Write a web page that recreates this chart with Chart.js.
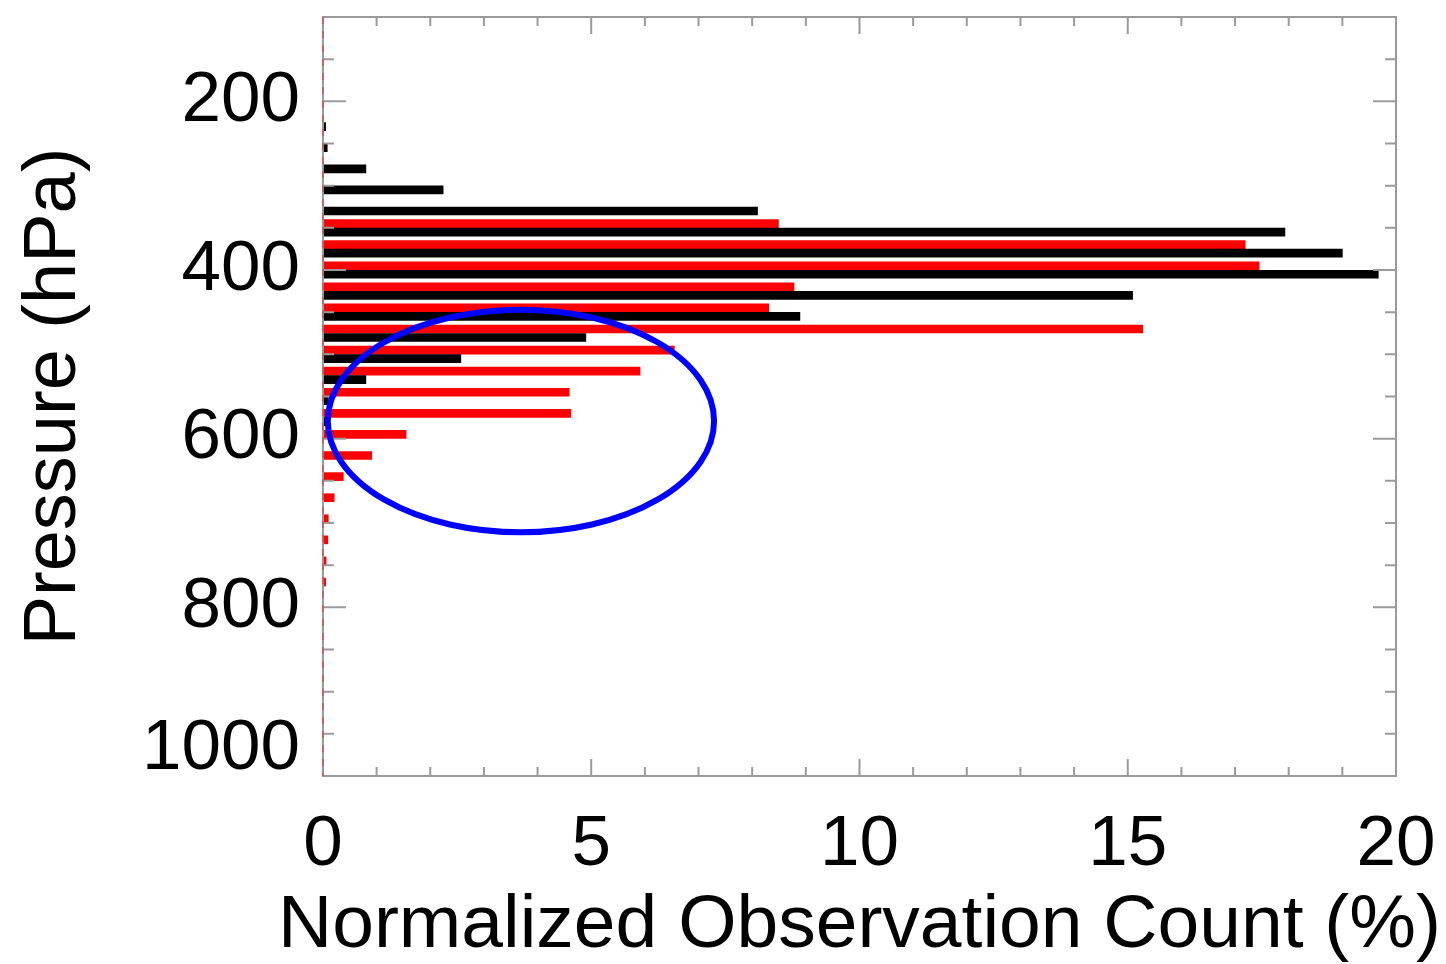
<!DOCTYPE html>
<html>
<head>
<meta charset="utf-8">
<script src="https://cdn.jsdelivr.net/npm/chart.js@4"></script>
<style>
  body { margin: 0; background: #fff; }
  canvas { display: block; }
</style>
</head>
<body>
<canvas id="grafica" width="1446" height="964"></canvas>
<script>
// pressure levels (hPa) and normalized counts (%) for each series
const presionNegro = [230, 255, 280, 305, 330, 355, 380, 405, 430, 455, 480, 505, 530, 555, 580];
const conteoNegro = [0.05, 0.08, 0.8, 2.24, 8.1, 17.93, 19.0, 19.67, 15.09, 8.89, 4.9, 2.57, 0.8, 0.1, 0.05];

const presionRojo = [345, 370, 395, 420, 445, 470, 495, 520, 545, 570, 595, 620, 645, 670, 695, 720, 745, 770];
const conteoRojo = [8.49, 17.19, 17.45, 8.78, 8.31, 15.28, 6.55, 5.91, 4.59, 4.62, 1.55, 0.91, 0.38, 0.21, 0.1, 0.09, 0.06, 0.05];

const ticksX = [0, 5, 10, 15, 20];
const ticksY = [200, 400, 600, 800, 1000];

const fuente = '"Liberation Sans", Arial, Helvetica, sans-serif';
const gris = '#9a9a9a';

// marco con marcas hacia dentro, linea roja punteada en x=0 y elipse azul
const marcoPlugin = {
  id: 'marco',
  afterLayout(chart) {
    // el titulo del eje x es mas ancho que el area; que no se comprima
    const xs = chart.scales.x;
    xs.left -= 200;
    xs.right += 200;
  },
  afterDatasetsDraw(chart, args, opts) {
    const {ctx, chartArea: a, scales} = chart;
    const xs = scales.x, ys = scales.y;
    ctx.save();
    ctx.strokeStyle = gris;
    ctx.lineWidth = 2;
    ctx.strokeRect(a.left, a.top, a.right - a.left, a.bottom - a.top);
    ctx.beginPath();
    // y: menor cada 50, mayor cada 200
    for (let v = ys.min; v <= ys.max; v += 50) {
      const py = ys.getPixelForValue(v);
      const len = v % 200 === 0 ? 23 : 11;
      ctx.moveTo(a.left, py); ctx.lineTo(a.left + len, py);
      ctx.moveTo(a.right, py); ctx.lineTo(a.right - len, py);
    }
    // x: menor cada 1, mayor cada 5
    for (let v = xs.min; v <= xs.max; v += 1) {
      const px = xs.getPixelForValue(v);
      const len = v % 5 === 0 ? 17 : 9;
      ctx.moveTo(px, a.bottom); ctx.lineTo(px, a.bottom - len);
      ctx.moveTo(px, a.top); ctx.lineTo(px, a.top + len);
    }
    ctx.stroke();

    // linea roja punteada sobre el eje x=0
    const x0 = xs.getPixelForValue(0);
    ctx.strokeStyle = 'rgba(255,0,0,0.45)';
    ctx.lineWidth = 1.5;
    ctx.setLineDash([7, 7]);
    ctx.beginPath();
    ctx.moveTo(x0, a.top);
    ctx.lineTo(x0, a.bottom);
    ctx.stroke();
    ctx.setLineDash([]);

    // elipse en coordenadas de datos
    const e = opts.elipse;
    const cx = xs.getPixelForValue(e.x), cy = ys.getPixelForValue(e.y);
    const rx = Math.abs(xs.getPixelForValue(e.x + e.rx) - cx);
    const ry = Math.abs(ys.getPixelForValue(e.y + e.ry) - cy);
    ctx.strokeStyle = '#0000ff';
    ctx.lineWidth = 6;
    ctx.beginPath();
    ctx.ellipse(cx, cy, rx, ry, 0, 0, Math.PI * 2);
    ctx.stroke();
    ctx.restore();
  }
};

new Chart(document.querySelector('#grafica'), {
  type: 'bar',
  data: {
    datasets: [
      {
        label: 'negro',
        data: presionNegro.map((p, i) => ({x: conteoNegro[i], y: p})),
        backgroundColor: '#000000',
      },
      {
        label: 'rojo',
        data: presionRojo.map((p, i) => ({x: conteoRojo[i], y: p})),
        backgroundColor: '#ff0000',
      },
    ]
  },
  options: {
    responsive: false,
    animation: false,
    indexAxis: 'y',
    datasets: {
      bar: { grouped: false, barThickness: 8, maxBarThickness: 8, borderWidth: 0 }
    },
    layout: { padding: { left: 0, top: 17, right: 50, bottom: 0 } },
    plugins: {
      legend: { display: false },
      tooltip: { enabled: false },
      marco: { elipse: { x: 3.69, y: 579, rx: 3.6, ry: 132 } }
    },
    scales: {
      x: {
        type: 'linear',
        position: 'bottom',
        offset: false,
        min: 0,
        max: 20,
        afterBuildTicks: s => { s.ticks = ticksX.map(v => ({value: v})); },
        afterFit: s => {
          s.paddingLeft = 0; s.paddingRight = 0;
          s.height -= s.options.ticks.padding;
        },
        grid: { display: false, drawTicks: false },
        border: { display: false },
        ticks: {
          padding: 34,
          color: '#000',
          maxRotation: 0,
          autoSkip: false,
          font: { family: fuente, size: 71, lineHeight: 1 }
        },
        title: {
          display: true,
          text: 'Normalized Observation Count (%)',
          color: '#000',
          padding: { top: 8, bottom: 0 },
          font: { family: fuente, size: 75, lineHeight: 1 }
        }
      },
      y: {
        type: 'linear',
        reverse: true,
        offset: false,
        min: 100,
        max: 1000,
        afterBuildTicks: s => { s.ticks = ticksY.map(v => ({value: v})); },
        afterFit: s => {
          s.paddingTop = 0; s.paddingBottom = 0;
          s.width -= s.options.ticks.padding;
        },
        grid: { display: false, drawTicks: false },
        border: { display: false },
        ticks: {
          padding: 23,
          color: '#000',
          autoSkip: false,
          callback: v => v === 1000 ? ['1000', ''] : String(v),
          font: c => ({
            family: fuente,
            size: 71,
            lineHeight: (c.tick && c.tick.value === 1000) ? 0.76 : 1
          })
        },
        title: {
          display: true,
          text: 'Pressure (hPa)',
          color: '#000',
          padding: { top: 18, bottom: 50 },
          font: { family: fuente, size: 74, lineHeight: 1 }
        }
      }
    }
  },
  plugins: [marcoPlugin]
});
</script>
</body>
</html>
